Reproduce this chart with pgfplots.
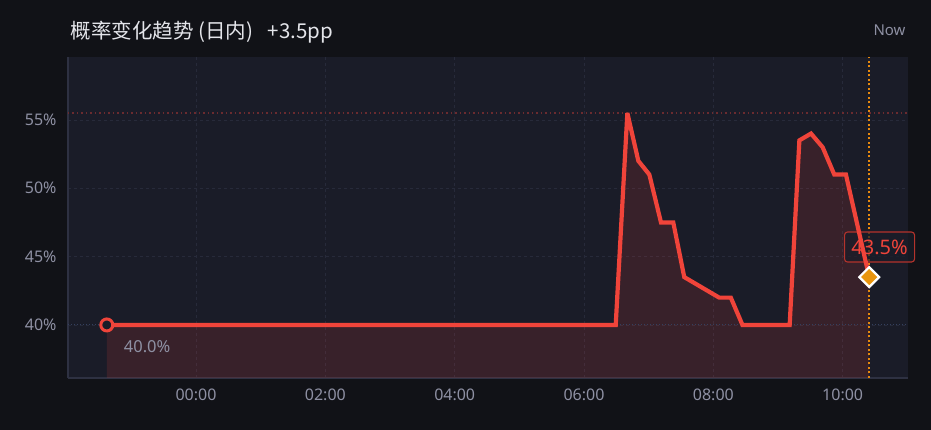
\documentclass[border=0pt]{standalone}
\usepackage{fontspec}
\setmainfont{Noto Sans}
\newfontfamily\cjk{Noto Sans CJK SC}
\usepackage{pgfplots}
\pgfplotsset{compat=1.18}

\definecolor{pagebg}{HTML}{111217}
\definecolor{plotbg}{HTML}{1A1C28}
\definecolor{gridc}{HTML}{272A3A}
\definecolor{axisc}{HTML}{2E3142}
\definecolor{tickc}{HTML}{8E90A3}
\definecolor{titlec}{HTML}{E4E5EA}
\definecolor{linec}{HTML}{F0443A}
\definecolor{nowc}{HTML}{E8890E}
\definecolor{basec}{HTML}{34405E}

% probability, hours since 00:00 (negative = previous day)
\pgfplotstableread{
t      p
-1.38  40
6.49   40
6.67   55.5
6.84   52
7.01   51
7.19   47.5
7.38   47.5
7.55   43.5
8.09   42
8.27   42
8.45   40
9.18   40
9.33   53.5
9.51   54
9.69   53
9.87   51
10.05  51
10.41  43.5
}\probdata

\begin{document}
\begin{tikzpicture}
\useasboundingbox (-68pt,-52pt) rectangle (863pt,378pt);
\fill[pagebg] (-68pt,-52pt) rectangle (863pt,378pt);
\begin{axis}[
  at={(0,0)}, anchor=south west,
  scale only axis, width=840pt, height=321pt,
  xmin=-1.98, xmax=11.01, ymin=36.12, ymax=59.6,
  axis background/.style={fill=plotbg},
  axis x line*=bottom, axis y line*=left,
  axis line style={draw=axisc, line width=1.2pt, -},
  major tick length=0pt,
  xtick={0,2,4,6,8,10},
  xticklabels={00:00,02:00,04:00,06:00,08:00,10:00},
  ytick={40,45,50,55},
  yticklabels={40\%,45\%,50\%,55\%},
  tick label style={text=tickc, font=\fontsize{16}{18}\selectfont},
  xticklabel style={yshift=-7pt},
  yticklabel style={xshift=-8pt},
  grid=major,
  major grid style={draw=gridc, dashed, line width=0.6pt},
  clip mode=individual,
]
% area under the curve
\addplot[draw=none, fill=linec, fill opacity=0.14] table[x=t, y=p] {\probdata} \closedcycle;
% reference lines
\addplot[basec, dotted, line width=1pt] coordinates {(-1.98,40) (11.01,40)};
\addplot[linec!38!plotbg, dash pattern=on 1.5pt off 3pt, line width=1.3pt] coordinates {(-1.98,55.5) (11.01,55.5)};
\addplot[nowc, dash pattern=on 2pt off 2.5pt, line width=1.6pt] coordinates {(10.41,36.12) (10.41,59.6)};
% label box behind the line
\node[draw=linec!75!black, fill=plotbg, fill opacity=0.7, text opacity=1, rounded corners=3pt,
      line width=1.1pt, text=linec, inner sep=3pt, minimum width=70pt, minimum height=30pt,
      font=\fontsize{20}{22}\selectfont] at (axis cs:10.57,45.7) {43.5\%};
% main line
\addplot[linec, line width=4.2pt, line join=miter, miter limit=4] table[x=t, y=p] {\probdata};
% start and end markers
\addplot[only marks, mark=*, mark size=6pt, mark options={draw=linec, fill=plotbg, line width=3pt}]
  coordinates {(-1.38,40)};
\addplot[only marks, mark=square*, mark size=7pt, mark options={draw=white, fill=nowc!90!yellow, line width=2.2pt, rotate=45}]
  coordinates {(10.41,43.5)};
\node[anchor=west, text=tickc, font=\fontsize{16.5}{18}\selectfont] at (axis cs:-1.17,38.45) {40.0\%};
\end{axis}
\node[anchor=west, text=titlec, font=\cjk\fontsize{20.5}{22}\selectfont] at (-1pt,346pt)
  {概率变化趋势 (日内)\hspace{15pt}+3.5pp};
\node[anchor=east, text=tickc, font=\fontsize{15}{17}\selectfont] at (841pt,348pt) {Now};
\end{tikzpicture}
\end{document}
